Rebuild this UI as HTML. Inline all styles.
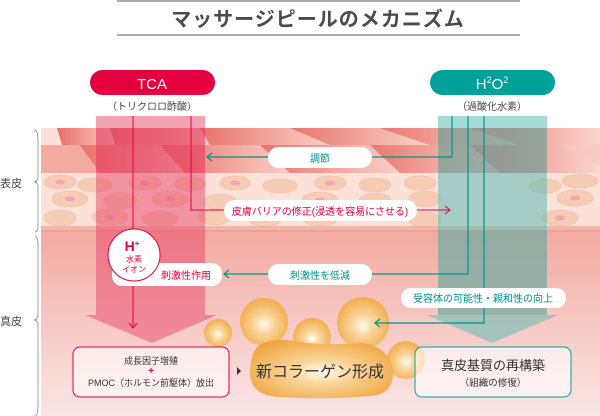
<!DOCTYPE html>
<html><head><meta charset="utf-8"><style>
html,body{margin:0;padding:0;background:#fff;}
svg{display:block;font-family:"Liberation Sans","Noto Sans CJK JP",sans-serif;}
</style></head><body>
<svg width="600" height="416" viewBox="0 0 600 416" xmlns="http://www.w3.org/2000/svg">
<defs>
<linearGradient id="derm" x1="0" y1="0" x2="0" y2="1">
<stop offset="0" stop-color="#ec8a7e"/><stop offset="0.45" stop-color="#f4b3ab"/><stop offset="1" stop-color="#fbe6e6"/>
</linearGradient>
<linearGradient id="sc1" x1="0" y1="0" x2="1" y2="0">
<stop offset="0" stop-color="#ed7d72"/><stop offset="1" stop-color="#f8cbc3"/>
</linearGradient>
<linearGradient id="str" x1="0" y1="0" x2="1" y2="0">
<stop offset="0" stop-color="#e86e66"/><stop offset="1" stop-color="#fbd8d0"/>
</linearGradient>
<radialGradient id="blob" cx="0.5" cy="0.55" r="0.6">
<stop offset="0" stop-color="#fffaf0"/><stop offset="0.35" stop-color="#f9d59a"/><stop offset="1" stop-color="#f1a540"/>
</radialGradient>
</defs>
<line x1="117" y1="1" x2="520" y2="1" stroke="#555" stroke-width="1"/>
<line x1="117" y1="35" x2="520" y2="35" stroke="#555" stroke-width="1"/>
<text x="318" y="26" text-anchor="middle" font-size="20" font-weight="bold" fill="#4a4a4a" letter-spacing="1">マッサージピールのメカニズム</text>
<rect x="90" y="70" width="125" height="25" rx="12.5" fill="#e4003f"/>
<text x="152" y="89" text-anchor="middle" font-size="15" fill="#fff">TCA</text>
<text x="152" y="110" text-anchor="middle" font-size="10" fill="#444">（トリクロロ酢酸）</text>
<rect x="430" y="70" width="125" height="25" rx="12.5" fill="#00a19a"/>
<text x="492" y="89" text-anchor="middle" font-size="15" fill="#fff">H<tspan font-size="9" dy="-6">2</tspan><tspan dy="6">O</tspan><tspan font-size="9" dy="-6">2</tspan></text>
<text x="492" y="110" text-anchor="middle" font-size="10" fill="#444">（過酸化水素）</text>
<rect x="41" y="128" width="559" height="288" fill="url(#derm)"/>
<rect x="41" y="128" width="559" height="45" fill="url(#sc1)"/>
<g opacity="0.85">
<polygon points="57,128 110,128 115,145 62,145" fill="url(#str)"/>
<polygon points="110,128 200,128 210,145 115,145" fill="url(#str)"/>
<polygon points="200,128 290,128 330,145 210,145" fill="url(#str)"/>
<polygon points="290,128 380,128 430,145 330,145" fill="url(#str)"/>
<polygon points="380,128 470,128 520,145 430,145" fill="url(#str)"/>
<polygon points="470,128 600,128 600,145 520,145" fill="url(#str)"/>
<polygon points="41,145 80,145 100,173 41,173" fill="#f5b2a8"/>
<polygon points="80,145 160,145 185,173 100,173" fill="url(#str)"/>
<polygon points="160,145 260,145 290,173 185,173" fill="url(#str)"/>
<polygon points="260,145 370,145 400,173 290,173" fill="url(#str)"/>
<polygon points="370,145 470,145 500,173 400,173" fill="url(#str)"/>
<polygon points="470,145 560,145 600,165 600,173 500,173" fill="url(#str)"/>
</g>
<polygon points="41,128 57,128 62,145 41,145" fill="#fbe0dc"/>
<rect x="41" y="173" width="559" height="57" fill="#fbe1d8"/>
<g fill="#f6cdb4" stroke="#f0bca3" stroke-width="0.6">
<ellipse cx="60" cy="182" rx="16" ry="7"/><ellipse cx="95" cy="185" rx="17" ry="7"/><ellipse cx="145" cy="183" rx="16" ry="7"/><ellipse cx="190" cy="184" rx="16" ry="7"/><ellipse cx="235" cy="183" rx="15" ry="7"/><ellipse cx="280" cy="186" rx="17" ry="7"/><ellipse cx="330" cy="183" rx="16" ry="7"/><ellipse cx="375" cy="185" rx="16" ry="7"/><ellipse cx="420" cy="183" rx="16" ry="7"/><ellipse cx="580" cy="181" rx="18" ry="7"/><ellipse cx="545" cy="186" rx="16" ry="7"/>
<ellipse cx="70" cy="199" rx="18" ry="8"/><ellipse cx="120" cy="201" rx="17" ry="8"/><ellipse cx="170" cy="199" rx="18" ry="8"/><ellipse cx="220" cy="202" rx="16" ry="8"/><ellipse cx="320" cy="200" rx="18" ry="8"/><ellipse cx="375" cy="201" rx="16" ry="8"/><ellipse cx="425" cy="199" rx="16" ry="8"/><ellipse cx="575" cy="198" rx="18" ry="8"/>
<ellipse cx="60" cy="218" rx="16" ry="8"/><ellipse cx="110" cy="217" rx="18" ry="8"/><ellipse cx="160" cy="219" rx="18" ry="8"/><ellipse cx="215" cy="217" rx="16" ry="8"/><ellipse cx="265" cy="219" rx="16" ry="8"/><ellipse cx="320" cy="218" rx="18" ry="8"/><ellipse cx="425" cy="220" rx="16" ry="8"/><ellipse cx="560" cy="218" rx="18" ry="8"/>
</g>
<g fill="#f2a6b8">
<ellipse cx="60" cy="182" rx="5" ry="2.5"/><ellipse cx="145" cy="183" rx="5" ry="2.5"/><ellipse cx="235" cy="183" rx="5" ry="2.5"/><ellipse cx="330" cy="183" rx="5" ry="2.5"/><ellipse cx="70" cy="199" rx="5" ry="2.5"/><ellipse cx="170" cy="199" rx="5" ry="2.5"/><ellipse cx="320" cy="200" rx="5" ry="2.5"/><ellipse cx="575" cy="198" rx="5" ry="2.5"/><ellipse cx="110" cy="217" rx="5" ry="2.5"/><ellipse cx="265" cy="219" rx="5" ry="2.5"/><ellipse cx="560" cy="218" rx="5" ry="2.5"/>
</g>
<rect x="41" y="226" width="559" height="6" fill="#ee9a8e" opacity="0.6"/>
<polygon points="96,116 205,116 205,315 217,315 152,343 85,315 96,315" fill="#e8456a" opacity="0.5"/>
<rect x="96" y="128" width="109" height="45" fill="#e03050" opacity="0.25"/>
<polygon points="438,116 547,116 547,315 558,315 492,343 427,315 438,315" fill="#5fbdb6" opacity="0.55"/>
<rect x="438" y="128" width="109" height="45" fill="#8a8a80" opacity="0.4"/>
<rect x="438" y="230" width="109" height="85" fill="#7f9a90" opacity="0.35"/>
<g fill="url(#blob)">
<circle cx="218" cy="333" r="14"/><circle cx="264" cy="322" r="24"/><circle cx="312" cy="337" r="19"/><circle cx="363" cy="323" r="26"/><circle cx="406" cy="360" r="19"/>
<path d="M258,346 Q272,336 300,342 Q330,346 362,343 Q388,346 393,370 Q394,396 368,396 Q330,400 280,397 Q252,396 250,375 Q250,355 258,346Z"/>
</g>
<g stroke="#e4003f" stroke-width="1" fill="none">
<line x1="133" y1="116" x2="133" y2="328"/>
<polyline points="191,116 191,210 224,210"/>
<line x1="417" y1="210" x2="450" y2="210"/>
<polyline points="445,206 450,210 445,214"/>
<polyline points="129,323 133,328 137,323"/>
</g>
<g stroke="#00938c" stroke-width="1.2" fill="none">
<polyline points="452,116 452,157 207,157"/>
<polyline points="212,153 207,157 212,161"/>
<polyline points="468,116 468,274 224,274"/>
<polyline points="229,270 224,274 229,278"/>
<polyline points="484,116 484,323 375,323"/>
<polyline points="380,319 375,323 380,327"/>
</g>
<rect x="268" y="147" width="104" height="21" rx="10.5" fill="#fff"/>
<text x="320" y="162" text-anchor="middle" font-size="10" fill="#00938c">調節</text>
<rect x="224" y="200" width="193" height="21" rx="10.5" fill="#fff"/>
<text x="320" y="215" text-anchor="middle" font-size="10" fill="#e4003f">皮膚バリアの修正(浸透を容易にさせる)</text>
<rect x="112" y="263" width="110" height="23" rx="10" fill="#fff"/>
<text x="186" y="279" text-anchor="middle" font-size="10" fill="#e4003f">刺激性作用</text>
<circle cx="134" cy="255" r="26" fill="#fff" stroke="#e4003f" stroke-width="1"/>
<text x="132" y="251" text-anchor="middle" font-size="14" font-weight="bold" fill="#e4003f">H<tspan font-size="8" dy="-5">+</tspan></text>
<text x="134" y="262" text-anchor="middle" font-size="8" fill="#e4003f">水素</text>
<text x="134" y="272" text-anchor="middle" font-size="8" fill="#e4003f">イオン</text>
<rect x="268" y="264" width="104" height="21" rx="10.5" fill="#fff"/>
<text x="320" y="279" text-anchor="middle" font-size="10" fill="#00938c">刺激性を低減</text>
<rect x="401" y="288" width="165" height="20" rx="10" fill="#fff"/>
<text x="483" y="302" text-anchor="middle" font-size="10" fill="#00938c">受容体の可能性・親和性の向上</text>
<rect x="73" y="347" width="156" height="50" rx="7" fill="#fff" fill-opacity="0.6" stroke="#e4003f" stroke-width="1"/>
<text x="151" y="364" text-anchor="middle" font-size="9" fill="#333">成長因子増殖</text>
<text x="151" y="374" text-anchor="middle" font-size="10" font-weight="bold" fill="#e4003f">+</text>
<text x="151" y="386" text-anchor="middle" font-size="9" fill="#333">PMOC（ホルモン前駆体）放出</text>
<polygon points="237,367 241,371 237,375" fill="#333"/>
<text x="320" y="377" text-anchor="middle" font-size="16" fill="#333">新コラーゲン形成</text>
<rect x="415" y="347" width="156" height="50" rx="7" fill="#fff" fill-opacity="0.6" stroke="#00a19a" stroke-width="1"/>
<text x="493" y="370" text-anchor="middle" font-size="13" fill="#333">真皮基質の再構築</text>
<text x="493" y="386" text-anchor="middle" font-size="9.5" fill="#333">（組織の修復）</text>
<text x="0" y="187" font-size="11" fill="#444">表皮</text>
<text x="0" y="325" font-size="11" fill="#444">真皮</text>
<path d="M34,130 Q38,130 38,140 L38,176 Q38,182 34,182 Q38,182 38,188 L38,226 Q38,232 35,232" fill="none" stroke="#888" stroke-width="0.8"/>
<path d="M35,236 Q38,236 38,246 L38,314 Q38,320 34,320 Q38,320 38,326 L38,406 Q38,416 35,416" fill="none" stroke="#888" stroke-width="0.8"/>
</svg>
</body></html>
